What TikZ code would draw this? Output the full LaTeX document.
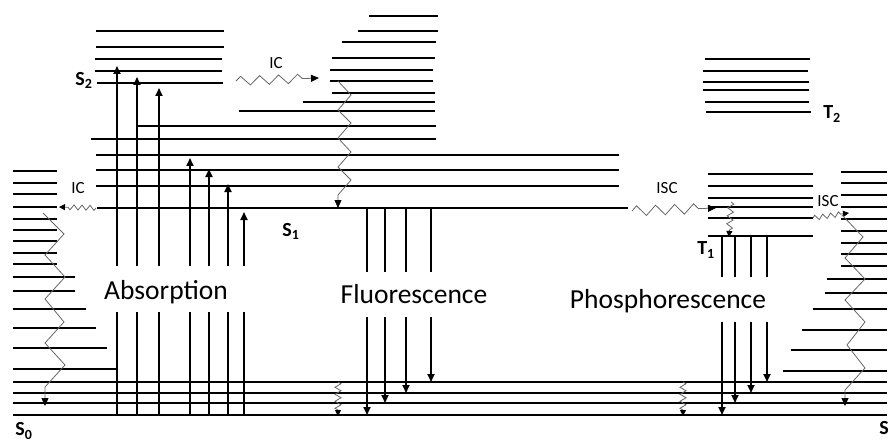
\documentclass[tikz,border=0pt]{standalone}
\usepackage{fontspec}
\setmainfont{Carlito}
\usetikzlibrary{arrows.meta,decorations.pathmorphing}
\begin{document}
\begin{tikzpicture}[x=1pt,y=-1pt,
  lvl/.style={line width=1.3pt},
  mainlvl/.style={line width=2pt},
  trans/.style={line width=1.7pt},
  tip/.style={-{Triangle[width=7pt,length=8pt,color=black]}},
  smalltip/.style={-{Triangle[width=6pt,length=6pt,color=black]}},
  relax/.style={draw=black!60, line width=0.8pt, line join=miter},
  lbl/.style={font=\fontsize{20}{22}\selectfont\bfseries, inner sep=0pt},
  proc/.style={font=\fontsize{17}{19}\selectfont, inner sep=0pt},
  big/.style={font=\fontsize{27.5}{30}\selectfont, inner sep=0pt, anchor=base}
]
\useasboundingbox (0,0) rectangle (889,441);

% ground state S0, left vibrational ladder
\foreach \y/\a/\b in {171/13/57,183/13/57,194/13/57,207/13/57,219/13/57,230/13/57,
  241/13/57,253/13/57,264/13/57,277/13/75,291/13/75,309/13/86,328/13/96,348/13/107,369/13/117}
  \draw[lvl] (\a,\y) -- (\b,\y);
% lowest S0 levels across the whole width
\foreach \y in {382,393,403}
  \draw[lvl] (13,\y) -- (887,\y);
\draw[mainlvl] (13,415) -- (887,415);

% S2 ladder
\foreach \y/\a/\b in {31/96/224,47/96/224,59/95/222,71/95/222}
  \draw[lvl] (\a,\y) -- (\b,\y);
\draw[mainlvl] (97,83) -- (223,83);

% S1 ladder
\foreach \y/\a/\b in {16/369/438,31/358/438,42/342/436,58/332/435,70/330/433,81/330/433,
  93/332/435,102/303/435,111/239/435,126/137/436,139/91/436,155/96/619,170/96/619,186/96/619}
  \draw[lvl] (\a,\y) -- (\b,\y);
\draw[mainlvl] (97,208) -- (628,208);

% T2 ladder
\foreach \y/\a/\b in {59/705/810,71/703/808,82/703/809,90/703/809,102/705/809}
  \draw[lvl] (\a,\y) -- (\b,\y);
\draw[mainlvl] (706,112) -- (811,112);

% T1 ladder
\foreach \y in {174,186,198,207,218}
  \draw[lvl] (708,\y) -- (813,\y);
\draw[mainlvl] (708,236) -- (813,236);

% S0, right vibrational ladder
\foreach \y/\a in {172/841,183/841,195/841,207/841,219/841,231/841,243/841,254/841,266/841,
  279/827,293/825,309/813,330/802,350/791,371/783}
  \draw[lvl] (\a,\y) -- (887,\y);

% state labels
\node[lbl] (s2) at (84,80) {S\textsubscript{2}};
\node[lbl] (s1) at (291,231) {S\textsubscript{1}};
\node[lbl] (t2) at (832,114) {T\textsubscript{2}};
\node[lbl] (t1) at (706,250) {T\textsubscript{1}};
\node[lbl] (s0) at (24,431) {S\textsubscript{0}};
\node[lbl] (s0r) at (884,428) {S};

% process labels
\node[big] (abs) at (166,299) {Absorption};
\node[big] (flu) at (414,303) {Fluorescence};
\node[big] (pho) at (668,308) {Phosphorescence};

% absorption
\foreach \x/\t in {117/66,137/77,159/88,190/158,209/169,228/184,244/212}{
  \draw[trans] (\x,416) -- (\x,312);
  \draw[trans,tip] (\x,266) -- (\x,\t);
}

% fluorescence
\foreach \x/\t in {367/415,385/403,406/393,431/382}{
  \draw[trans] (\x,208) -- (\x,272);
  \draw[trans,tip] (\x,317) -- (\x,\t);
}

% phosphorescence
\foreach \x/\t in {722/415,735/403,751/393,767/382}{
  \draw[trans] (\x,236) -- (\x,277);
  \draw[trans,tip] (\x,322) -- (\x,\t);
}

% internal conversion and intersystem crossing
\node[proc] (ic1) at (276,63) {IC};
\draw[relax,tip,decorate,decoration={zigzag,segment length=19pt,amplitude=4.5pt,post length=9pt}]
  (236,81) -- (319,78);
\node[proc] (ic2) at (78,188) {IC};
\draw[relax,smalltip,decorate,decoration={zigzag,segment length=8pt,amplitude=2.5pt,post length=6pt}]
  (96,208) -- (59,207);
\node[proc] (isc1) at (667,188) {ISC};
\draw[relax,tip,decorate,decoration={zigzag,segment length=19pt,amplitude=5pt,post length=9pt}]
  (632,211) -- (716,208);
\node[proc] (isc2) at (828,201) {ISC};
\draw[relax,smalltip,decorate,decoration={zigzag,segment length=8pt,amplitude=2.5pt,post length=6pt}]
  (813,218) -- (849,213);
\draw[relax,smalltip,decorate,decoration={zigzag,segment length=8pt,amplitude=3pt,post length=6pt}]
  (731,202) -- (729,237);
\draw[relax,smalltip,decorate,decoration={zigzag,segment length=7pt,amplitude=3pt,post length=6pt}]
  (338,382) -- (338,416);
\draw[relax,smalltip,decorate,decoration={zigzag,segment length=7pt,amplitude=3pt,post length=6pt}]
  (683,382) -- (683,416);

% vibrational relaxation
\draw[relax,tip] (338,81) -- (351,95) -- (338,110) -- (351,123) -- (338,138) -- (351,152)
  -- (338,167) -- (351,180) -- (338,195) -- (338,208);
\draw[relax,tip] (43,213) -- (64,234) -- (45,255) -- (65,277) -- (45,299) -- (64,322)
  -- (45,343) -- (65,365) -- (45,387) -- (45,406);
\draw[relax,tip] (842,215) -- (863,237) -- (845,258) -- (865,279) -- (845,300) -- (865,322)
  -- (847,345) -- (865,368) -- (845,390) -- (845,406);
\end{tikzpicture}
\end{document}
